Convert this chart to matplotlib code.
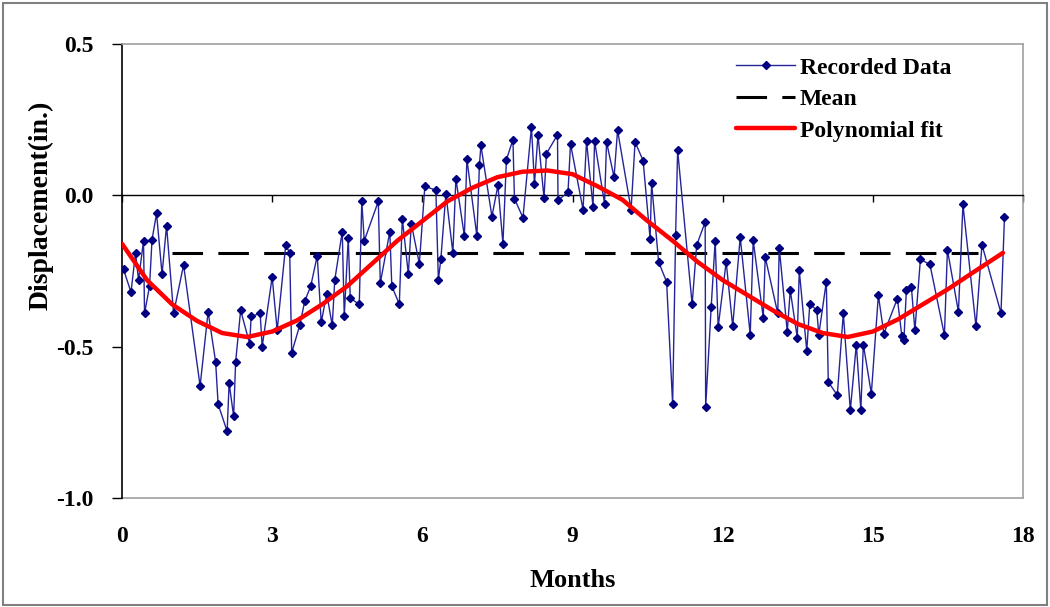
import matplotlib
matplotlib.use("Agg")
import matplotlib.pyplot as plt
from matplotlib.patches import Rectangle

# Recorded displacement readings (months, inches)
months = [0.03, 0.18, 0.27, 0.33, 0.43, 0.45, 0.55, 0.60, 0.69, 0.80, 0.89, 1.03,
          1.23, 1.56, 1.72, 1.87, 1.92, 2.10, 2.14, 2.23, 2.27, 2.37,
          2.55, 2.58, 2.76, 2.80, 3.00, 3.10, 3.27, 3.35, 3.39, 3.55, 3.65, 3.77,
          3.90, 3.98, 4.09, 4.20, 4.25, 4.40, 4.44, 4.52, 4.56, 4.74, 4.79, 4.84,
          5.12, 5.16, 5.35, 5.39, 5.54, 5.60, 5.72, 5.78, 5.94, 6.05, 6.27, 6.32,
          6.37, 6.47, 6.61, 6.67, 6.84, 6.89, 7.09, 7.14, 7.17,
          7.39, 7.51, 7.61, 7.68, 7.81, 7.84, 8.01, 8.18, 8.24, 8.31, 8.43, 8.48,
          8.70, 8.71, 8.91, 8.96, 9.21, 9.28, 9.41, 9.44,
          9.64, 9.68, 9.83, 9.90, 10.17, 10.25, 10.41, 10.55, 10.58, 10.72, 10.88,
          11.00, 11.06, 11.10, 11.39, 11.48, 11.65, 11.66, 11.77, 11.85, 11.91,
          12.07, 12.20, 12.35, 12.55, 12.61, 12.81, 12.85, 13.10, 13.13, 13.29,
          13.35, 13.49, 13.53, 13.68, 13.74, 13.88, 13.92, 14.07, 14.11, 14.29,
          14.41, 14.55, 14.67, 14.76, 14.81, 14.97, 15.11, 15.22, 15.49, 15.58,
          15.62, 15.67, 15.77, 15.84, 15.95, 16.14, 16.43, 16.49, 16.71, 16.80,
          17.06, 17.18, 17.56, 17.63]
displacement = [-0.245, -0.32, -0.19, -0.28, -0.15, -0.39, -0.30, -0.146, -0.06, -0.26, -0.10, -0.39,
                -0.23, -0.63, -0.385, -0.55, -0.69, -0.78, -0.62, -0.73, -0.55, -0.38,
                -0.49, -0.40, -0.39, -0.50, -0.27, -0.446, -0.165, -0.19, -0.52, -0.43, -0.35, -0.30,
                -0.20, -0.42, -0.325, -0.43, -0.28, -0.12, -0.40, -0.14, -0.34, -0.36, -0.02, -0.15,
                -0.02, -0.29, -0.12, -0.30, -0.36, -0.077, -0.26, -0.094, -0.226, 0.03, 0.017, -0.28,
                -0.21, 0.005, -0.19, 0.055, -0.135, 0.12, -0.135, 0.10, 0.165,
                -0.07, 0.033, -0.16, 0.118, 0.184, -0.011, -0.074, 0.226, 0.038, 0.20, -0.008, 0.138,
                0.20, -0.017, 0.011, 0.17, -0.047, 0.18, -0.039, 0.18,
                -0.027, 0.176, 0.06, 0.215, -0.047, 0.176, 0.115, -0.143, 0.04, -0.22, -0.286,
                -0.69, -0.13, 0.149, -0.36, -0.165, -0.088, -0.70, -0.37, -0.15, -0.435,
                -0.22, -0.433, -0.138, -0.46, -0.149, -0.404, -0.204, -0.39, -0.173, -0.45,
                -0.314, -0.47, -0.248, -0.514, -0.358, -0.38, -0.46, -0.286, -0.617, -0.66,
                -0.39, -0.71, -0.493, -0.71, -0.493, -0.655, -0.33, -0.457, -0.341, -0.466,
                -0.479, -0.314, -0.303, -0.446, -0.212, -0.228, -0.462, -0.18, -0.385, -0.03,
                -0.433, -0.163, -0.389, -0.07]

# Mean displacement line
mean_months = [1.0, 17.1]
mean_value = [-0.19, -0.19]

# Polynomial trend sampled along the record
fit_months = [0.0, 0.5, 1.0, 1.5, 2.0, 2.5, 3.0, 3.5, 4.0, 4.5, 5.0, 5.5, 6.0, 6.5,
              7.0, 7.5, 8.0, 8.5, 9.0, 9.5, 10.0, 10.5, 11.0, 11.5, 12.0, 12.5,
              13.0, 13.5, 14.0, 14.5, 15.0, 15.5, 16.0, 16.5, 17.0, 17.6]
fit_values = [-0.16, -0.28, -0.36, -0.415, -0.455, -0.468, -0.45, -0.413, -0.36, -0.30,
              -0.225, -0.15, -0.085, -0.02, 0.025, 0.06, 0.078, 0.082, 0.07, 0.03,
              -0.015, -0.085, -0.15, -0.22, -0.28, -0.33, -0.38, -0.425, -0.455, -0.468,
              -0.45, -0.41, -0.36, -0.31, -0.255, -0.19]

x_ticks = [0, 3, 6, 9, 12, 15, 18]
y_ticks = [-1.0, -0.5, 0.0, 0.5]

plt.rcParams['font.family'] = ['Liberation Serif', 'DejaVu Serif']
plt.rcParams['font.weight'] = 'bold'

fig = plt.figure(figsize=(10.5, 6.07), dpi=100)
ax = fig.add_axes([0.1162, 0.1796, 0.8581, 0.7479])

ax.plot(months, displacement, color='#24249a', lw=1.0, marker='D', ms=4.5,
        mfc='#000080', mec='#000080', label='Recorded Data', zorder=3)
ax.plot(mean_months, mean_value, color='black', lw=2.2, linestyle=(0, (10, 5)),
        label='Mean', zorder=2)
ax.plot(fit_months, fit_values, color='#ff0000', lw=3.2, label='Polynomial fit',
        solid_capstyle='round', zorder=4)

ax.set_xlim(0, 18)
ax.set_ylim(-1.0, 0.5)

# Horizontal axis line at zero with downward tick marks, labels at the bottom
ax.spines['bottom'].set_position(('data', 0))
ax.spines['bottom'].set_color('black')
ax.spines['bottom'].set_linewidth(1.0)
ax.set_xticks(x_ticks)
ax.tick_params(axis='x', direction='out', length=5, width=1, labelbottom=False)

sec = ax.secondary_xaxis(0.0)
sec.set_xticks(x_ticks)
sec.set_xticklabels([str(t) for t in x_ticks])
sec.tick_params(axis='x', length=0, pad=20, labelsize=17)
sec.spines['bottom'].set_color('#a0a0a0')
sec.spines['bottom'].set_linewidth(1.2)
sec.set_xlabel('Months', fontsize=19, fontweight='bold', labelpad=16)

ax.set_yticks(y_ticks)
ax.set_yticklabels(['-1.0', '-0.5', '0.0', '0.5'])
ax.tick_params(axis='y', direction='out', length=7.5, width=1, labelsize=17, pad=13)
ax.spines['left'].set_color('black')
ax.spines['left'].set_linewidth(1.2)
for side in ('top', 'right'):
    ax.spines[side].set_color('#a0a0a0')
    ax.spines[side].set_linewidth(1.2)

ax.set_ylabel('Displacement(in.)', fontsize=20, fontweight='bold')
ax.yaxis.set_label_coords(-0.076, 0.645)

leg = ax.legend(loc='upper left', bbox_to_anchor=(0.671, 0.992), frameon=False,
                fontsize=17, handlelength=2.5, handletextpad=0.2, labelspacing=0.42,
                numpoints=1, borderaxespad=0)
for txt in leg.get_texts():
    txt.set_fontweight('bold')

# Outer chart frame
fig.patches.append(Rectangle((0.003, 0.004), 0.994, 0.991, transform=fig.transFigure,
                             fill=False, edgecolor='#808080', lw=1.5))

fig.savefig('out.png', dpi=100)
